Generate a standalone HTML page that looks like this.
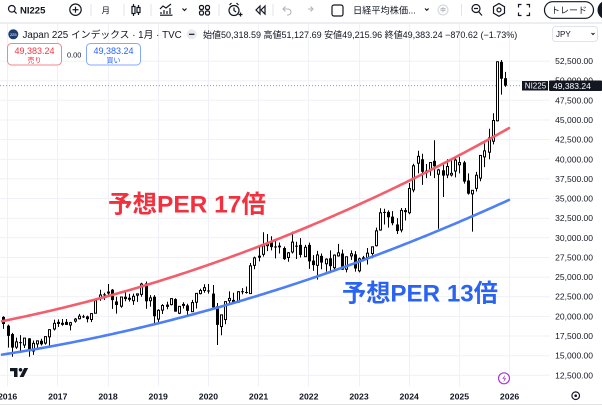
<!DOCTYPE html>
<html><head><meta charset="utf-8">
<style>
html,body{margin:0;padding:0;background:#fff;width:602px;height:407px;overflow:hidden}
svg{display:block}
text{font-family:"Liberation Sans","Noto Sans CJK JP",sans-serif;fill:#131722}
</style></head><body>
<svg width="602" height="407" viewBox="0 0 602 407" xmlns="http://www.w3.org/2000/svg">
<rect width="602" height="407" fill="#fff"/>

<!-- grid -->
<g stroke="#eff1f6" stroke-width="1">
<line x1="7.5" y1="24" x2="7.5" y2="386"/>
<line x1="57.5" y1="24" x2="57.5" y2="386"/>
<line x1="108.5" y1="24" x2="108.5" y2="386"/>
<line x1="158.5" y1="24" x2="158.5" y2="386"/>
<line x1="208.5" y1="24" x2="208.5" y2="386"/>
<line x1="258.5" y1="24" x2="258.5" y2="386"/>
<line x1="308.5" y1="24" x2="308.5" y2="386"/>
<line x1="359.5" y1="24" x2="359.5" y2="386"/>
<line x1="409.5" y1="24" x2="409.5" y2="386"/>
<line x1="459.5" y1="24" x2="459.5" y2="386"/>
<line x1="509.5" y1="24" x2="509.5" y2="386"/>
<line x1="0" y1="375.3" x2="550" y2="375.3"/>
<line x1="0" y1="355.7" x2="550" y2="355.7"/>
<line x1="0" y1="336" x2="550" y2="336"/>
<line x1="0" y1="316.4" x2="550" y2="316.4"/>
<line x1="0" y1="296.7" x2="550" y2="296.7"/>
<line x1="0" y1="277.1" x2="550" y2="277.1"/>
<line x1="0" y1="257.5" x2="550" y2="257.5"/>
<line x1="0" y1="237.8" x2="550" y2="237.8"/>
<line x1="0" y1="218.2" x2="550" y2="218.2"/>
<line x1="0" y1="198.5" x2="550" y2="198.5"/>
<line x1="0" y1="178.9" x2="550" y2="178.9"/>
<line x1="0" y1="159.3" x2="550" y2="159.3"/>
<line x1="0" y1="139.6" x2="550" y2="139.6"/>
<line x1="0" y1="120" x2="550" y2="120"/>
<line x1="0" y1="100.3" x2="550" y2="100.3"/>
<line x1="0" y1="80.7" x2="550" y2="80.7"/>
<line x1="0" y1="61.1" x2="550" y2="61.1"/>
</g>

<!-- toolbar -->
<rect x="0" y="22" width="602" height="2" fill="#eceef2"/>
<g stroke="#e0e3eb" stroke-width="1">
<line x1="91" y1="4" x2="91" y2="16"/>
<line x1="124" y1="4" x2="124" y2="16"/>
<line x1="151" y1="4" x2="151" y2="16"/>
<line x1="219" y1="4" x2="219" y2="16"/>
<line x1="273" y1="4" x2="273" y2="16"/>
<line x1="461.5" y1="4" x2="461.5" y2="16"/>
</g>
<g fill="none" stroke="#131722" stroke-width="1.2">
<circle cx="11.8" cy="8.8" r="3.3"/>
<line x1="14.2" y1="11.2" x2="16.6" y2="13.6"/>
<circle cx="75.5" cy="9.7" r="5.7"/>
<line x1="72.5" y1="9.7" x2="78.5" y2="9.7"/>
<line x1="75.5" y1="6.7" x2="75.5" y2="12.7"/>
<line x1="133.5" y1="4" x2="133.5" y2="16"/>
<rect x="132" y="6.5" width="3" height="7" fill="#fff"/>
<line x1="138.5" y1="5" x2="138.5" y2="15"/>
<rect x="137" y="7.5" width="3" height="5" fill="#fff"/>
<path d="M160 15.2 h12.5"/>
<path d="M161 14 v-2 M164 14 v-4 M167 14 v-3 M170 14 v-6" />
<path d="M160 9 l3 -3 l3 2 l5 -4"/>
<path d="M182.5 8.5 l2 2 l2 -2"/>
<rect x="199.5" y="5.5" width="4" height="4" rx="1.5"/>
<rect x="205.5" y="5.5" width="4" height="4" rx="1.5"/>
<rect x="199.5" y="11" width="4" height="4" rx="1.5"/>
<rect x="205.5" y="11" width="4" height="4" rx="1.5"/>
<circle cx="234" cy="10.5" r="5"/>
<path d="M234 7.5 v3 l2 1.5 M229.5 5 l2 -2 M238.5 5 l-2 -2 M238.5 14.5 h4 M240.5 12.5 v4"/>
<path d="M260 6 l-4 4 l4 4 z M265 6 l-4 4 l4 4 z"/>
<rect x="332" y="5" width="11" height="11" rx="2"/>
<path d="M425 8.5 l1.8 1.8 l1.8 -1.8"/>
<circle cx="476" cy="8.5" r="4"/>
<path d="M478.5 11.5 l3.5 4 M474 8.5 h4"/>
<polygon points="499,3.5 504.5,6.7 504.5,13.1 499,16.3 493.5,13.1 493.5,6.7"/>
<circle cx="499" cy="9.9" r="2"/>
<path d="M518.5 7.5 v-3 h3 M526.5 4.5 h3 v3 M529.5 12.5 v3 h-3 M521.5 15.5 h-3 v-3"/>
<rect x="544.5" y="1.7" width="49" height="16.6" rx="8.3"/>
</g>
<g fill="none" stroke="#b2b5be" stroke-width="1.1">
<path d="M285.5 6.5 l-2.5 2.5 l2.5 2.5 M283 9 h5 a3 3 0 0 1 0 6 h-1"/>
<path d="M310.5 6.5 l2.5 2.5 l-2.5 2.5 M313 9 h-5"/>
</g>
<circle cx="443" cy="10" r="5" fill="#fff" stroke="#d1d4dc" stroke-width="1"/>
<text x="443" y="12" font-size="5.5" text-anchor="middle" style="fill:#787b86">中</text>
<circle cx="607" cy="10" r="9.5" fill="#131722"/>
<text x="20" y="13.4" font-size="9.5" font-weight="bold">NI225</text>
<text x="101.5" y="13.5" font-size="8.5">月</text>
<text x="353" y="13.5" font-size="9.2">日経平均株価...</text>
<text x="569" y="13.3" font-size="9" text-anchor="middle">トレード</text>

<!-- legend -->
<circle cx="13.3" cy="34.3" r="5" fill="#1d3c72"/>
<text x="13.3" y="35.8" font-size="4" text-anchor="middle" style="fill:#fff">225</text>
<text x="22.5" y="38" font-size="9.8">Japan 225 インデックス · 1月 · TVC</text>
<circle cx="191.7" cy="34.3" r="5" fill="#e9eaee"/>
<line x1="189" y1="34.3" x2="194.4" y2="34.3" stroke="#131722" stroke-width="1.2"/>
<text x="203" y="37.8" font-size="9">始値50,318.59 高値51,127.69 安値49,215.96 終値49,383.24 −870.62 (−1.73%)</text>

<rect x="7.5" y="43.5" width="54" height="21.5" rx="4" fill="#fff" stroke="#f5848c" stroke-width="1"/>
<text x="34.5" y="54" font-size="9" text-anchor="middle" style="fill:#f23645">49,383.24</text>
<text x="34.5" y="62.5" font-size="7" text-anchor="middle" style="fill:#f23645">売り</text>
<text x="67" y="57.3" font-size="7.4">0.00</text>
<rect x="86.5" y="43.5" width="54" height="21.5" rx="4" fill="#fff" stroke="#86a8ff" stroke-width="1"/>
<text x="113.5" y="54" font-size="9" text-anchor="middle" style="fill:#2962ff">49,383.24</text>
<text x="113.5" y="62.5" font-size="7" text-anchor="middle" style="fill:#2962ff">買い</text>

<rect x="552.5" y="26.5" width="45" height="15" rx="3" fill="#fff" stroke="#e0e3eb"/>
<text x="556" y="37" font-size="8">JPY</text>
<path d="M591.5 33 l1.5 1.5 l1.5 -1.5" fill="none" stroke="#131722" stroke-width="1"/>

<!-- price axis -->
<g font-size="8.5" text-anchor="end">
<text x="593" y="378.3">12,500.00</text>
<text x="593" y="358.7">15,000.00</text>
<text x="593" y="339">17,500.00</text>
<text x="593" y="319.4">20,000.00</text>
<text x="593" y="299.7">22,500.00</text>
<text x="593" y="280.1">25,000.00</text>
<text x="593" y="260.5">27,500.00</text>
<text x="593" y="240.8">30,000.00</text>
<text x="593" y="221.2">32,500.00</text>
<text x="593" y="201.5">35,000.00</text>
<text x="593" y="181.9">37,500.00</text>
<text x="593" y="162.3">40,000.00</text>
<text x="593" y="142.6">42,500.00</text>
<text x="593" y="123">45,000.00</text>
<text x="593" y="103.3">47,500.00</text>
<text x="593" y="83.7">50,000.00</text>
<text x="593" y="64.1">52,500.00</text>
</g>

<!-- time axis -->
<g font-size="8.7" font-weight="bold" text-anchor="middle">
<text x="7.6" y="399.5">2016</text>
<text x="57.8" y="399.5">2017</text>
<text x="108" y="399.5">2018</text>
<text x="158.2" y="399.5">2019</text>
<text x="208.4" y="399.5">2020</text>
<text x="258.6" y="399.5">2021</text>
<text x="308.8" y="399.5">2022</text>
<text x="359" y="399.5">2023</text>
<text x="409.2" y="399.5">2024</text>
<text x="459.4" y="399.5">2025</text>
<text x="509.6" y="399.5">2026</text>
</g>
<line x1="0" y1="404.5" x2="602" y2="404.5" stroke="#e0e3eb" stroke-width="1"/>
<circle cx="575.7" cy="395.7" r="3.8" fill="none" stroke="#131722" stroke-width="1.2"/>
<circle cx="575.7" cy="395.7" r="1.3" fill="#131722"/>

<!-- current price dotted line -->
<line x1="0" y1="85.6" x2="521" y2="85.6" stroke="#9598a1" stroke-width="1" stroke-dasharray="1 2"/>

<!-- candles -->
<g id="c"></g>
<!-- PER lines -->
<g id="l"></g>

<!-- labels -->
<rect x="522" y="81" width="26" height="9.5" fill="#131722"/>
<text x="524.8" y="88.6" font-size="8" style="fill:#fff">NI225</text>
<rect x="549" y="80.5" width="53" height="10.5" rx="1" fill="#131722"/>
<text x="553" y="88.8" font-size="8.5" style="fill:#fff">49,383.24</text>

<text x="108" y="212.7" font-size="24.5" font-weight="bold" style="fill:#f2313f">予想PER 17倍</text>
<text x="342" y="301.7" font-size="24.2" font-weight="bold" style="fill:#2a62f2">予想PER 13倍</text>

<!-- TV logo -->
<path d="M10 368 h7.5 v9 h-3.5 v-5.8 h-4 z" fill="#131722"/>
<circle cx="20.5" cy="369.8" r="1.8" fill="#131722"/>
<path d="M24.2 368 h4 l-4.6 9 h-4 z" fill="#131722"/>

<!-- lightning -->
<circle cx="504" cy="378.3" r="5.5" fill="#fff" stroke="#a838d6" stroke-width="1.2"/>
<path d="M505.3 374.6 l-3 4.2 h2.2 l-1.2 3.6 l3 -4.2 h-2.2 z" fill="#a838d6"/>
</svg>
<script>
(function(){
var D=[[19934,20012,18410,19033],
[18818,18951,16017,17518],[17750,17905,14865,16026],[16085,17291,15857,16758],[16719,17613,15471,16666],[16357,17251,15975,17234],[17200,17235,14864,15575],[15600,16938,15095,16569],[16500,16919,15900,16887],[16900,17150,16300,16449],[16600,17446,16400,17425],[17400,18360,16111,18308],[18400,19592,18200,19114],
[19300,19615,18650,19041],[19000,19668,18800,19119],[19300,19668,18900,18909],[18900,19300,18224,19197],[19400,19800,19200,19650],[19700,20318,19600,20033],[20000,20200,19800,19925],[20000,20100,19239,19646],[19600,20400,19274,20356],[20400,22011,20400,22011],[22400,23382,21972,22725],[22800,23000,22100,22764],
[23000,24129,22700,23098],[23400,23486,20950,22068],[21900,22500,20347,21454],[21300,22467,21100,22467],[22500,23050,21931,22202],[22200,22880,21900,22305],[22000,22900,21462,22554],[22700,22900,21851,22865],[22800,24286,22500,24120],[24200,24448,20971,21920],[22000,22700,21243,22351],[22500,22700,18949,20015],
[19655,20900,19241,20773],[20800,21556,20300,21385],[21500,21860,20900,21206],[21500,22307,21400,22259],[22200,22300,20600,20601],[20400,21300,20289,21276],[21500,21800,21000,21522],[21400,21600,20110,20704],[20600,22098,20600,21756],[21800,22974,21000,22927],[22900,23520,22800,23294],[23300,24092,23000,23657],
[23300,24115,22900,23205],[22900,24000,21000,21143],[21300,21700,16358,18917],[18700,20200,17600,20194],[19600,21900,19000,21878],[22000,23185,21500,22288],[22100,23000,21700,21710],[21800,23200,21700,23140],[23200,23600,22800,23185],[23100,23800,22900,22977],[22900,26800,22900,26434],[26500,27600,26000,27444],
[27600,28979,27000,27663],[27900,30714,27600,28966],[29000,30485,28300,29179],[29400,30200,28400,28813],[28900,29685,27385,28860],[29000,29400,28000,28792],[28700,28900,27200,27284],[27500,28200,26954,28090],[28200,30795,28000,29453],[29000,29500,27300,28893],[29100,29960,27500,27822],[27600,29100,27600,28792],
[29100,29388,26044,27002],[27100,27800,25800,26527],[26500,28338,24681,27821],[27700,28000,26000,26848],[26700,27400,25700,27280],[27400,28400,25500,26394],[26200,27900,25900,27802],[27700,29222,27600,28092],[28000,28500,25938,25937],[26000,27600,25600,27587],[27700,28400,27200,27969],[27900,28300,25700,26095],
[25800,27500,25600,27327],[27400,27700,27000,27446],[27500,28700,26600,28041],[28000,28900,27400,28856],[29000,31300,28900,30888],[31000,33772,30900,33189],[33300,33700,31700,33172],[33300,33500,31300,32619],[32700,33400,31600,31857],[31700,32500,30500,30858],[31000,33800,30700,33486],[33400,33800,32200,33464],
[33200,36984,33000,36286],[36100,39426,35800,39166],[39500,41087,38200,40369],[40000,40700,36733,38405],[38300,39400,37600,38487],[38700,39600,37900,39583],[39800,42426,37600,39101],[38100,38800,31156,38647],[38600,39500,35200,37919],[38000,40000,37600,39081],[38000,39900,37800,38208],[38500,40400,37700,39894],
[39300,40300,38200,39572],[39600,39800,36900,37155],[37300,38200,35500,35617],[35600,36000,30792,36045],[36300,38400,35900,37965],[37600,40500,37200,40487],[40300,42000,39000,41069],[40900,43876,40000,42718],[42300,45852,41900,44932],[44900,52411,44800,52411],[52400,52636,48235,50253],[50318,51127,49216,49383]];
function Y(v){return 375.3-(v-12500)*0.007856;}
var s='';
for(var i=0;i<D.length;i++){
 var m=i-1, cx=Math.round(7.6+4.183*m), d=D[i];
 var o=d[0],h=d[1],l=d[2],c=d[3];
 var yo=Y(o),yc=Y(c),yh=Y(h),yl=Y(l);
 s+='<line x1="'+(cx+0.5)+'" x2="'+(cx+0.5)+'" y1="'+yh.toFixed(2)+'" y2="'+yl.toFixed(2)+'" stroke="#000" stroke-width="1"/>';
 if(c>=o){
  var t=Math.min(yo,yc),b=Math.max(yo,yc);
  s+='<rect x="'+(cx-0.5)+'" y="'+t.toFixed(2)+'" width="2" height="'+Math.max(b-t,1).toFixed(2)+'" fill="#fff" stroke="#000" stroke-width="1"/>';
 } else {
  s+='<rect x="'+(cx-1)+'" y="'+yo.toFixed(2)+'" width="3" height="'+Math.max(yc-yo,1).toFixed(2)+'" fill="#000"/>';
 }
}
document.getElementById('c').innerHTML=s;
var r='',b='';
for(var x=2;x<=511;x+=3){
 var yr=321-0.3205*(x-3)-0.000359*(x-3)*(x-340);
 var yb=354.5-0.2573*(x-3)-0.0002977*(x-3)*(x-347);
 r+=(x==2?'M':'L')+x+' '+yr.toFixed(2)+' ';
 b+=(x==2?'M':'L')+x+' '+yb.toFixed(2)+' ';
}
document.getElementById('l').innerHTML='<path d="'+r+'" fill="none" stroke="#f45d6b" stroke-width="2.6" stroke-linecap="round"/><path d="'+b+'" fill="none" stroke="#4d7ff6" stroke-width="2.6" stroke-linecap="round"/>';
})();
</script>
</body></html>
